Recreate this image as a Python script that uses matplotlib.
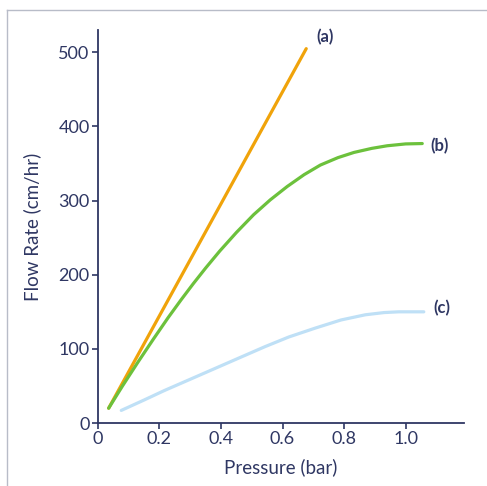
import matplotlib
matplotlib.use("Agg")
import matplotlib.pyplot as plt
from matplotlib.lines import Line2D

# values
pressure_a = [0.035, 0.677]
flow_a = [20, 505]

pressure_b = [0.035, 0.08, 0.13, 0.18, 0.228, 0.27, 0.31, 0.35, 0.396, 0.45, 0.506, 0.56, 0.615,
              0.67, 0.723, 0.78, 0.832, 0.89, 0.94, 1.0, 1.054]
flow_b = [20, 50, 82, 113, 142, 166, 188, 209, 232, 257, 281, 301, 319,
          335, 348, 358, 365, 370.5, 374, 376.5, 377]

pressure_c = [0.076, 0.15, 0.217, 0.3, 0.38, 0.46, 0.543, 0.62, 0.706, 0.79, 0.869, 0.93, 0.977, 1.059]
flow_c = [17, 31, 44, 59, 73.5, 88, 103, 116, 128, 139, 146, 149, 150, 150]

labels = ["(a)", "(b)", "(c)"]
xticks = [0, 0.2, 0.4, 0.6, 0.8, 1.0]
xticklabels = ["0", "0.2", "0.4", "0.6", "0.8", "1.0"]
yticks = [0, 100, 200, 300, 400, 500]

navy = "#2f3763"
plt.rcParams["font.family"] = ["Lato", "DejaVu Sans"]

fig = plt.figure(figsize=(4.87, 4.86), dpi=100)
ax = fig.add_axes([0.201, 0.1296, 0.752, 0.8084])

ax.plot(pressure_a, flow_a, color="#f0a30a", lw=2.3, solid_capstyle="round")
ax.plot(pressure_b, flow_b, color="#6cc13c", lw=2.3, solid_capstyle="round", solid_joinstyle="round")
ax.plot(pressure_c, flow_c, color="#bfe0f6", lw=2.3, solid_capstyle="round", solid_joinstyle="round")

ax.text(0.71, 521, labels[0], color=navy, fontsize=12, fontweight="bold", va="center", ha="left")
ax.text(1.08, 373, labels[1], color=navy, fontsize=12, fontweight="bold", va="center", ha="left")
ax.text(1.09, 155, labels[2], color=navy, fontsize=12, fontweight="bold", va="center", ha="left")

ax.set_xlim(0, 1.19)
ax.set_ylim(0, 530)
ax.set_xticks(xticks)
ax.set_xticklabels(xticklabels)
ax.set_yticks(yticks)

for s in ["top", "right"]:
    ax.spines[s].set_visible(False)
for s in ["left", "bottom"]:
    ax.spines[s].set_color(navy)
    ax.spines[s].set_linewidth(1.3)
ax.tick_params(colors=navy, labelsize=13, length=4, width=1.2, pad=2)

ax.set_xlabel("Pressure (bar)", color=navy, fontsize=13.5, labelpad=8)
ax.set_ylabel("Flow Rate (cm/hr)", color=navy, fontsize=13.5, labelpad=12)

# light frame round the figure
fig.add_artist(Line2D([7 / 487, 7 / 487], [0, 1 - 10 / 486], transform=fig.transFigure, color="#b8bcc8", lw=1))
fig.add_artist(Line2D([7 / 487, 1], [1 - 10 / 486, 1 - 10 / 486], transform=fig.transFigure, color="#b8bcc8", lw=1))

fig.savefig("out.png", dpi=100)
